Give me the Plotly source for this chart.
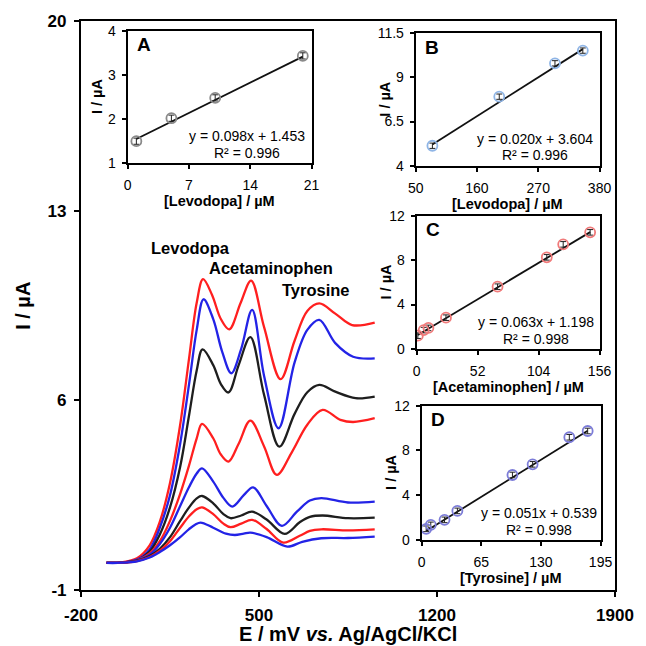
import plotly.graph_objects as go

# ---------------- data: main voltammograms ----------------
E_red1 = [-100, -40, 20, 70, 110, 150, 190, 225, 255, 280, 315, 350, 383, 428, 469, 520, 585, 640, 690, 737, 800, 866, 955]
I_red1 = [0.0, 0.02, 0.17, 0.65, 1.52, 2.95, 5.1, 7.55, 9.6, 10.47, 9.9, 9.0, 8.62, 9.6, 10.42, 8.7, 6.78, 8.2, 9.3, 9.58, 9.2, 8.78, 8.87]

E_blue2 = [-100, -40, 20, 70, 110, 150, 190, 225, 255, 282, 320, 355, 391, 430, 473, 520, 577, 640, 690, 737, 800, 870, 955]
I_blue2 = [0.0, 0.01, 0.12, 0.5, 1.3, 2.5, 4.4, 6.6, 8.6, 9.73, 9.0, 7.8, 7.0, 7.9, 9.34, 6.9, 4.97, 7.4, 8.6, 8.97, 8.11, 7.61, 7.55]

E_black3 = [-100, -40, 20, 70, 110, 150, 190, 225, 255, 278, 320, 350, 380, 420, 466, 520, 580, 640, 690, 737, 800, 880, 955]
I_black3 = [0.0, 0.01, 0.1, 0.42, 1.05, 2.05, 3.55, 5.45, 7.1, 7.88, 7.3, 6.6, 6.29, 7.3, 8.33, 6.2, 4.29, 5.5, 6.3, 6.57, 6.32, 6.08, 6.14]

E_red4 = [-100, -40, 20, 70, 110, 150, 190, 225, 255, 276, 320, 350, 380, 420, 466, 520, 570, 630, 690, 750, 820, 870, 955]
I_red4 = [0.0, 0.01, 0.1, 0.35, 0.8, 1.55, 2.55, 3.6, 4.6, 5.13, 4.6, 4.0, 3.74, 4.4, 5.25, 4.3, 3.25, 4.1, 5.1, 5.65, 5.28, 5.2, 5.34]

E_blue5 = [-100, -40, 20, 70, 110, 150, 190, 225, 255, 276, 320, 360, 395, 440, 477, 530, 590, 650, 700, 745, 850, 955]
I_blue5 = [0.0, 0.01, 0.1, 0.3, 0.7, 1.3, 2.1, 2.8, 3.3, 3.49, 3.0, 2.4, 2.08, 2.5, 2.79, 2.1, 1.37, 1.9, 2.3, 2.39, 2.23, 2.26]

E_black6 = [-100, -40, 20, 70, 110, 150, 190, 225, 255, 276, 320, 360, 388, 430, 473, 530, 601, 660, 700, 750, 850, 955]
I_black6 = [0.0, 0.01, 0.08, 0.25, 0.52, 0.95, 1.55, 2.05, 2.38, 2.47, 2.2, 1.8, 1.65, 1.75, 1.89, 1.6, 1.07, 1.5, 1.7, 1.75, 1.65, 1.67]

E_red7 = [-100, -40, 20, 70, 110, 150, 190, 225, 255, 276, 320, 360, 388, 430, 473, 530, 595, 660, 700, 745, 850, 955]
I_red7 = [0.0, 0.01, 0.07, 0.22, 0.45, 0.8, 1.3, 1.72, 1.98, 2.05, 1.8, 1.45, 1.32, 1.45, 1.59, 1.25, 0.75, 1.0, 1.18, 1.24, 1.2, 1.24]

E_blue8 = [-100, -40, 20, 70, 110, 150, 190, 225, 250, 270, 320, 370, 405, 440, 466, 530, 612, 670, 745, 850, 955]
I_blue8 = [0.0, 0.01, 0.06, 0.2, 0.4, 0.65, 0.95, 1.25, 1.42, 1.49, 1.3, 1.08, 1.03, 1.08, 1.12, 0.95, 0.6, 0.78, 0.91, 0.92, 0.97]

# ---------------- data: calibration insets ----------------
A_conc = [1, 5, 10, 20]
A_curr = [1.50, 2.02, 2.48, 3.43]
A_err = [0.07, 0.07, 0.07, 0.07]
A_fit = (0.098, 1.453)
A_r2 = 0.996

B_conc = [80, 200, 300, 350]
B_curr = [5.13, 7.91, 9.80, 10.52]
B_err = [0.15, 0.15, 0.15, 0.15]
B_fit = (0.020, 3.604)
B_r2 = 0.996

C_conc = [1, 6, 10, 25, 69, 111, 125, 148]
C_curr = [1.2, 1.7, 1.9, 2.82, 5.61, 8.25, 9.42, 10.50]
C_err = [0.25, 0.25, 0.25, 0.25, 0.25, 0.25, 0.25, 0.25]
C_fit = (0.063, 1.198)
C_r2 = 0.998

D_conc = [5, 10, 25, 39, 99, 121, 161, 181]
D_curr = [1.0, 1.35, 1.8, 2.6, 5.81, 6.76, 9.18, 9.74]
D_err = [0.25, 0.25, 0.25, 0.25, 0.25, 0.25, 0.25, 0.25]
D_fit = (0.051, 0.539)
D_r2 = 0.998

main_xticks = [-200, 500, 1200, 1900]
main_xticklabels = ["-200", "500", "1200", "1900"]
main_yticks = [-1, 6, 13, 20]
main_yticklabels = ["-1", "6", "13", "20"]
A_xticks, A_yticks = [0, 7, 14, 21], [1, 2, 3, 4]
B_xticks, B_yticks = [50, 160, 270, 380], [4, 6.5, 9, 11.5]
C_xticks, C_yticks = [0, 52, 104, 156], [0, 4, 8, 12]
D_xticks, D_yticks = [0, 65, 130, 195], [0, 4, 8, 12]

# ---------------- styling / geometry ----------------
W = H = 646
L, R, T, B = 81, 623, 21, 590
FONT = "Liberation Sans, Arial, sans-serif"
RED, BLUE, BLACK = "#ff1f1f", "#2323e6", "#1e1e1e"


def px(x):
    return (x - L) / (R - L)


def py(y):
    return (B - y) / (B - T)


def note(x, y, text, size, angle=0):
    return dict(x=px(x), y=py(y), xref="paper", yref="paper", text=text,
                showarrow=False, xanchor="center", yanchor="middle", textangle=angle,
                font=dict(family=FONT, size=size, color="black"))


fig = go.Figure()

curves = [
    (E_red1, I_red1, RED), (E_blue2, I_blue2, BLUE), (E_black3, I_black3, BLACK),
    (E_red4, I_red4, RED), (E_blue5, I_blue5, BLUE), (E_black6, I_black6, BLACK),
    (E_red7, I_red7, RED), (E_blue8, I_blue8, BLUE),
]
for e, i, c in curves:
    fig.add_trace(go.Scatter(x=e, y=i, mode="lines", xaxis="x", yaxis="y",
                             line=dict(color=c, width=2.3, shape="spline", smoothing=1.0),
                             showlegend=False, hoverinfo="skip"))

insets = [
    ("2", A_conc, A_curr, A_err, A_fit, A_r2, "#8a8a8a", (128.3, 315, 30.7, 163.3),
     A_xticks, A_yticks, "A", "[Levodopa] / µM"),
    ("3", B_conc, B_curr, B_err, B_fit, B_r2, "#8fb5e6", (420.7, 607.3, 33.3, 165.7),
     B_xticks, B_yticks, "B", "[Levodopa] / µM"),
    ("4", C_conc, C_curr, C_err, C_fit, C_r2, "#f07a7a", (421.7, 607.3, 215.7, 349),
     C_xticks, C_yticks, "C", "[Acetaminophen] / µM"),
    ("5", D_conc, D_curr, D_err, D_fit, D_r2, "#7c7cd8", (426.7, 608.3, 405.7, 540),
     D_xticks, D_yticks, "D", "[Tyrosine] / µM"),
]

annotations = []
layout_axes = {}
for k, xs, ys, es, fit, r2, mcol, box, xt, yt, lab, xtitle in insets:
    x0, x1, y0, y1 = box
    xa, ya = "x" + k, "y" + k
    slope, icpt = fit
    fx = [min(xs), max(xs)]
    fy = [slope * v + icpt for v in fx]
    fig.add_trace(go.Scatter(x=fx, y=fy, mode="lines", xaxis=xa, yaxis=ya,
                             line=dict(color="#111111", width=1.8),
                             showlegend=False, hoverinfo="skip"))
    fig.add_trace(go.Scatter(x=xs, y=ys, mode="markers", xaxis=xa, yaxis=ya,
                             marker=dict(symbol="circle-open", size=10, color=mcol,
                                         line=dict(width=1.8, color=mcol)),
                             error_y=dict(type="data", array=es, visible=True,
                                          color="#222222", thickness=1, width=3),
                             showlegend=False, hoverinfo="skip"))
    common = dict(showline=True, linecolor="black", linewidth=2, mirror=True,
                  ticks="outside", ticklen=4, tickwidth=1.5, tickcolor="black",
                  showgrid=False, zeroline=False,
                  tickfont=dict(family=FONT, size=14, color="black"))
    layout_axes["xaxis" + k] = dict(common, domain=[px(x0), px(x1)], anchor=ya,
                                    range=[xt[0], xt[-1]], tickvals=xt,
                                    ticklabelstandoff=4)
    layout_axes["yaxis" + k] = dict(common, domain=[py(y1), py(y0)], anchor=xa,
                                    range=[yt[0], yt[-1]], tickvals=yt,
                                    ticklabelstandoff=3)
    annotations.append(note(x0 + 17, y0 + 14, "<b>%s</b>" % lab, 19))
    cx = (x0 + x1) / 2 + 28
    annotations.append(note(cx, y1 - 27, "y = %.3fx + %.3f" % (slope, icpt), 14))
    annotations.append(note(cx, y1 - 10.5, "R² = %.3f" % r2, 14))
    annotations.append(note((x0 + x1) / 2, y1 + 38, "<b>%s</b>" % xtitle, 14.5))
    annotations.append(note(x0 - 31, (y0 + y1) / 2, "<b>I / µA</b>", 14.5, -90))

# peak labels on main plot
for txt, e, i in [("Levodopa", 229, 11.62), ("Acetaminophen", 546, 10.89), ("Tyrosine", 724, 10.07)]:
    annotations.append(dict(x=e, y=i, xref="x", yref="y", text="<b>%s</b>" % txt,
                            showarrow=False, xanchor="center", yanchor="middle",
                            font=dict(family=FONT, size=16.5, color="black")))

annotations.append(note((L + R) / 2, 634, "<b>E / mV <i>vs.</i> Ag/AgCl/KCl</b>", 20))
annotations.append(note(22, 306, "<b>I / µA</b>", 20, -90))

main_common = dict(showline=True, linecolor="black", linewidth=2.2, mirror=True,
                   ticks="outside", ticklen=5, tickwidth=2, tickcolor="black",
                   showgrid=False, zeroline=False,
                   tickfont=dict(family=FONT, size=17, color="black", weight="bold"))

fig.update_layout(
    width=W, height=H,
    margin=dict(l=L, r=W - R, t=T, b=H - B),
    paper_bgcolor="white", plot_bgcolor="white",
    showlegend=False,
    xaxis=dict(main_common, domain=[0, 1], anchor="y", range=[-200, 1900],
               tickvals=main_xticks, ticktext=main_xticklabels, ticklabelstandoff=3),
    yaxis=dict(main_common, domain=[0, 1], anchor="x", range=[-1, 20],
               tickvals=main_yticks, ticktext=main_yticklabels, ticklabelstandoff=4),
    annotations=annotations,
    **layout_axes,
)

fig.write_html("out.html")
